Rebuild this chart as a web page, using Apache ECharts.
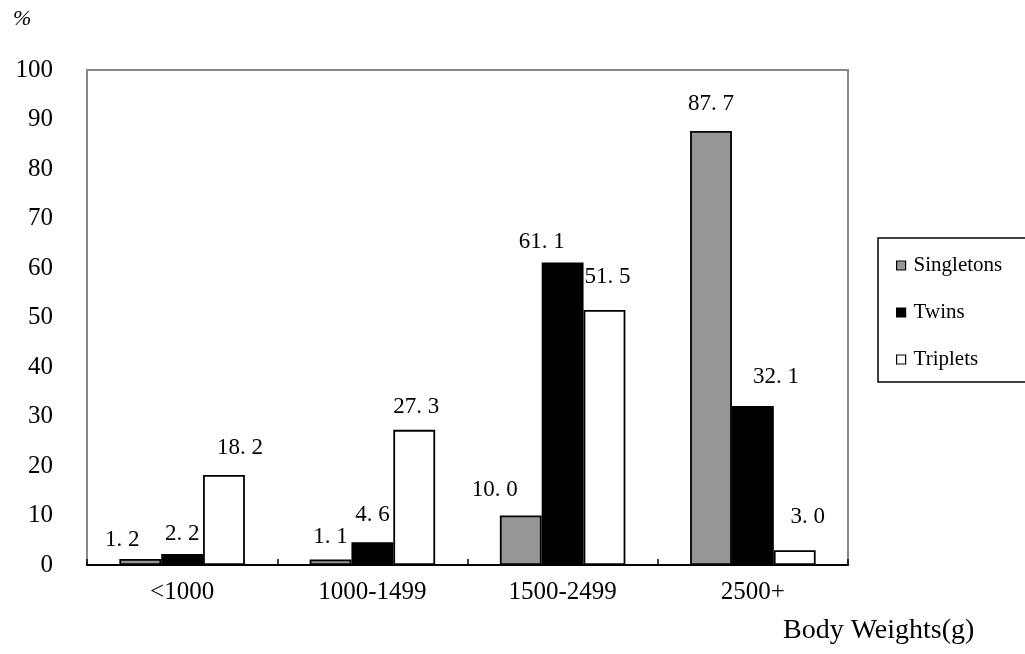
<!DOCTYPE html>
<html>
<head>
<meta charset="utf-8">
<script src="https://cdn.jsdelivr.net/npm/echarts@6/dist/echarts.min.js"></script>
<style>
  html, body { margin: 0; padding: 0; background: #fff; }
  #chart { width: 1025px; height: 654px; }
</style>
</head>
<body>
<div id="chart"></div>
<script>
// Birth weight distribution (%) by plurality
const categories = ['<1000', '1000-1499', '1500-2499', '2500+'];
const seriesNames = ['Singletons', 'Twins', 'Triplets'];
const singletons = [1.2, 1.1, 10.0, 87.7];
const twins = [2.2, 4.6, 61.1, 32.1];
const triplets = [18.2, 27.3, 51.5, 3.0];
const yMin = 0, yMax = 100, yStep = 10;

// Hand-placed nudges [dx, dy] for value labels so crowded ones don't collide
const labelNudges = [
  [[-18, 3], [0, 0], [-26, -3], [0, -4]],
  [[0, 2], [0, -5], [-21, 2], [23, -7]],
  [[16, -4], [2, 0], [3, -11], [13, -11]]
];

const FONT = '"Liberation Serif", "Times New Roman", serif';
const fills = ['#969696', '#000000', '#ffffff'];
const values = [singletons, twins, triplets];

const chart = echarts.init(document.getElementById('chart'), null, { renderer: 'canvas' });

const series = seriesNames.map((name, i) => ({
  name,
  type: 'bar',
  data: values[i].map((v, j) => ({
    value: v,
    label: { offset: labelNudges[i][j] }
  })),
  barGap: '0%',
  barCategoryGap: '34%',
  itemStyle: { color: fills[i], borderColor: '#000', borderWidth: 1.8 },
  label: {
    show: true,
    position: 'top',
    distance: 11,
    color: '#000',
    fontFamily: FONT,
    fontSize: 23,
    formatter: p => p.value.toFixed(1).replace('.', '. ')
  }
}));

chart.setOption({
  animation: false,
  backgroundColor: '#fff',
  grid: {
    left: 87, right: 177, top: 70, bottom: 89,
    show: true, borderColor: '#888', borderWidth: 2, backgroundColor: 'transparent'
  },
  legend: {
    orient: 'vertical',
    left: 878, top: 238,
    padding: [17, 40, 12, 18],
    itemGap: 26,
    itemWidth: 9, itemHeight: 9,
    icon: 'rect',
    borderColor: '#000', borderWidth: 1.5,
    backgroundColor: '#fff',
    itemStyle: { borderColor: '#000', borderWidth: 1.2 },
    textStyle: { fontFamily: FONT, fontSize: 21, color: '#000', padding: [0, 0, 0, 3] },
    data: seriesNames
  },
  xAxis: {
    type: 'category',
    data: categories,
    axisLine: { lineStyle: { color: '#000', width: 2 } },
    axisTick: { show: true, inside: true, length: 6, alignWithLabel: false, interval: 0, lineStyle: { color: '#000', width: 1.5 } },
    axisLabel: { color: '#000', fontFamily: FONT, fontSize: 25, margin: 15, interval: 0 },
    splitLine: { show: false }
  },
  yAxis: {
    type: 'value',
    min: yMin, max: yMax, interval: yStep,
    axisLine: { show: false },
    axisTick: { show: false },
    splitLine: { show: false },
    axisLabel: { color: '#000', fontFamily: FONT, fontSize: 25, margin: 34 }
  },
  graphic: [
    {
      type: 'text', left: 13, top: 8,
      style: { text: '%', fontFamily: FONT, fontStyle: 'italic', fontSize: 22, fill: '#000' }
    },
    {
      type: 'text', left: 783, top: 617,
      style: { text: 'Body Weights(g)', fontFamily: FONT, fontSize: 28, fill: '#000' }
    }
  ],
  series
});
</script>
</body>
</html>
